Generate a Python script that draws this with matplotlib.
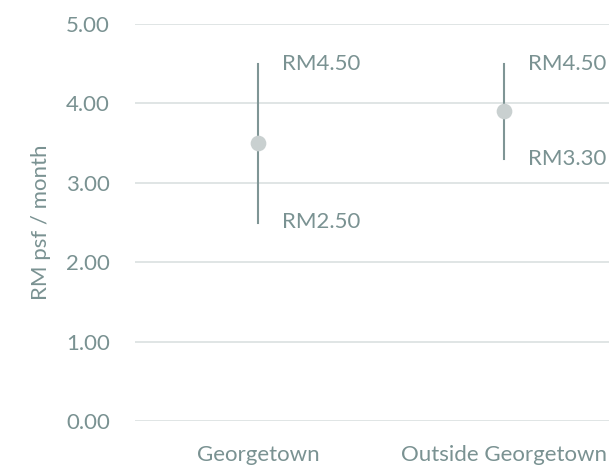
import matplotlib.pyplot as plt

# data
categories = ['Georgetown', 'Outside Georgetown']
low = [2.50, 3.30]
high = [4.50, 4.50]
mid = [3.50, 3.90]
yticks = [0, 1, 2, 3, 4, 5]

txt_col = '#7A9292'
line_col = '#7F9595'
dot_col = '#C9D0D0'
grid_col = '#DDE3E3'

plt.rcParams['font.family'] = ['Lato', 'DejaVu Sans']
fs = 16

fig = plt.figure(figsize=(6.09, 4.67), dpi=100)
ax = fig.add_axes([135 / 609, 1 - 421 / 467, 492 / 609, 397 / 467])

x = list(range(len(categories)))
for i in x:
    ax.plot([i, i], [low[i], high[i]], color=line_col, lw=1.5, zorder=3)
    ax.plot(i, mid[i], 'o', ms=11.3, color=dot_col, mec='none', zorder=4)
    ax.annotate('RM%.2f' % high[i], (i, high[i]), xytext=(17, 0), textcoords='offset points',
                va='center', ha='left', color=txt_col, fontsize=fs)
    ax.annotate('RM%.2f' % low[i], (i, low[i]), xytext=(17, 0), textcoords='offset points',
                va='center', ha='left', color=txt_col, fontsize=fs)

ax.set_xlim(-0.5, 1.5)
ax.set_ylim(0, 5)
ax.set_yticks(yticks)
ax.set_yticklabels(['%.2f' % v for v in yticks])
ax.set_xticks(x)
ax.set_xticklabels(categories)
ax.grid(axis='y', color=grid_col, lw=1.3)
ax.set_axisbelow(True)
for s in ax.spines.values():
    s.set_visible(False)
ax.tick_params(axis='both', length=0, labelcolor=txt_col, labelsize=fs)
ax.tick_params(axis='y', pad=18)
ax.tick_params(axis='x', pad=17)
ax.set_ylabel('RM psf / month', color=txt_col, fontsize=fs, labelpad=11)

fig.savefig('out.png', dpi=100)
